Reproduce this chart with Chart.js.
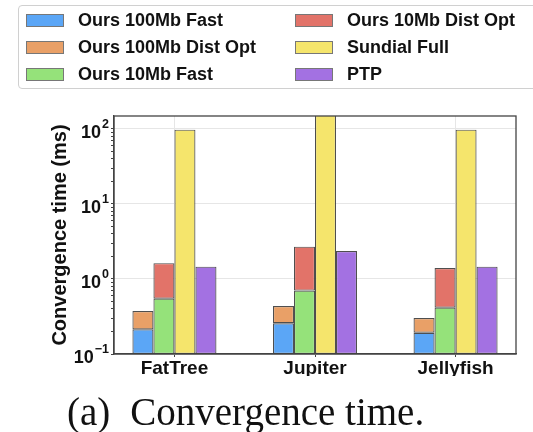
<!DOCTYPE html>
<html>
<head>
<meta charset="utf-8">
<script src="https://cdn.jsdelivr.net/npm/chart.js@4"></script>
<style>
  html, body { margin: 0; padding: 0; background: #fff; }
  #wrap { position: relative; width: 533px; height: 432px; overflow: hidden; }
  #chart { position: absolute; left: 0; top: 0; }
  #legend {
    position: absolute; left: 18px; top: 5px; width: 540px; height: 84px;
    border: 1px solid #d0d0d0; border-radius: 4px; box-sizing: border-box;
    display: grid; grid-auto-flow: column;
    grid-template-rows: repeat(3, 27px); grid-template-columns: 269px auto;
    padding: 1px 0 0 7px;
    font: bold 18px "Liberation Sans", Arial, sans-serif; color: #111;
  }
  .item { display: flex; align-items: center; white-space: nowrap; }
  .sw { width: 38px; height: 13px; border: 1px solid #777; box-sizing: border-box; margin-right: 14px; }
  #caption {
    position: absolute; left: 67px; top: 389px;
    font: 39px "Liberation Serif", "DejaVu Serif", serif; color: #111; white-space: nowrap;
  }
</style>
</head>
<body>
<div id="wrap">
  <canvas id="chart" width="533" height="432"></canvas>
  <div id="legend"></div>
  <div id="caption">(a)<span style="margin-left:20px">Convergence time.</span></div>
</div>
<script>
const categories = ['FatTree', 'Jupiter', 'Jellyfish'];
const fast100 = [0.213, 0.257, 0.192];
const distOpt100 = [0.16, 0.18, 0.11];   // stacked on top of fast100
const fast10 = [0.547, 0.70, 0.415];
const distOpt10 = [1.08, 2.0, 0.985];    // stacked on top of fast10
const sundial = [98, 180, 98];
const ptp = [1.46, 2.36, 1.46];
const yMajorTicks = [0.1, 1, 10, 100];
const yExponents = ['\u22121', '0', '1', '2'];

const sansFont = '"Liberation Sans", Arial, sans-serif';
const edge = 'rgba(60,60,60,0.9)';
function pts(arr) {
    return arr.map(function (v, i) { return { x: i, y: v }; });
}
function ds(label, arr, color, stack) {
    return {
        label: label,
        data: pts(arr),
        backgroundColor: color,
        borderColor: edge,
        borderWidth: 1.2,
        borderSkipped: false,
        stack: stack,
        categoryPercentage: 0.598,
        barPercentage: 1
    };
}
function majorIndex(v) {
    return yMajorTicks.findIndex(function (t) { return Math.abs(t - v) < 1e-9; });
}

// box around the plot area + the exponents of the y tick labels
const framePlugin = {
    id: 'frame',
    afterDraw(chart) {
        const a = chart.chartArea;
        const c = chart.ctx;
        c.save();
        c.strokeStyle = '#444';
        c.lineWidth = 1.3;
        c.strokeRect(a.left, a.top, a.right - a.left, a.bottom - a.top);

        const y = chart.scales.y;
        c.fillStyle = '#111';
        c.font = 'bold 12.5px ' + sansFont;
        c.textAlign = 'right';
        c.textBaseline = 'alphabetic';
        yMajorTicks.forEach(function (v, i) {
            c.fillText(yExponents[i], y.right - 5, y.getPixelForValue(v) - 1);
        });
        c.restore();
    }
};

const chart = new Chart(document.getElementById('chart'), {
    type: 'bar',
    data: {
        datasets: [
            ds('Ours 100Mb Fast', fast100, '#5ba6f6', 'a'),
            ds('Ours 100Mb Dist Opt', distOpt100, '#e9a067', 'a'),
            ds('Ours 10Mb Fast', fast10, '#95e27a', 'b'),
            ds('Ours 10Mb Dist Opt', distOpt10, '#e27369', 'b'),
            ds('Sundial Full', sundial, '#f5e56c', 'c'),
            ds('PTP', ptp, '#a371e2', 'd')
        ]
    },
    options: {
        responsive: false,
        animation: false,
        layout: { padding: { top: 116, left: 40, right: 17, bottom: 56 } },
        plugins: {
            legend: { display: false },
            title: { display: false },
            tooltip: { enabled: false }
        },
        scales: {
            x: {
                type: 'linear',
                offset: false,
                min: -0.43,
                max: 2.43,
                afterBuildTicks: function (s) {
                    s.ticks = categories.map(function (c, i) { return { value: i }; });
                },
                afterFit: function (s) { s.height = 22; },
                grid: { offset: false, color: '#e6e6e6', tickColor: '#444', tickLength: 3 },
                border: { color: '#444', width: 1.3 },
                ticks: {
                    color: '#111',
                    padding: 0,
                    maxRotation: 0,
                    font: { family: sansFont, size: 19, weight: 'bold' },
                    callback: function (v) { return categories[v] || ''; }
                }
            },
            y: {
                type: 'logarithmic',
                stacked: true,
                min: 0.1,
                max: 149,
                afterBuildTicks: function (s) {
                    s.ticks = s.ticks.filter(function (t) {
                        const m = t.value / Math.pow(10, Math.floor(Math.log10(t.value) + 1e-9));
                        return Math.abs(m - Math.round(m)) < 1e-6;
                    });
                },
                afterFit: function (s) { s.width = 74; },
                grid: {
                    color: function (c) { return c.tick && majorIndex(c.tick.value) >= 0 ? '#e6e6e6' : 'rgba(0,0,0,0)'; },
                    tickColor: '#444',
                    tickLength: 3
                },
                border: { color: '#444', width: 1.3 },
                title: {
                    display: true,
                    text: 'Convergence time (ms)',
                    color: '#111',
                    padding: { top: 8, bottom: 0 },
                    font: { family: sansFont, size: 20, weight: 'bold' }
                },
                ticks: {
                    autoSkip: false,
                    padding: 10,
                    labelOffset: 4,
                    color: '#111',
                    font: { family: sansFont, size: 18, weight: 'bold' },
                    callback: function (v) {
                        const i = majorIndex(v);
                        if (i < 0) return '';
                        // leave room for the wider "-1" exponent
                        return yExponents[i].length > 1 ? '10\u2009\u2009' : '10';
                    }
                }
            }
        }
    },
    plugins: [framePlugin]
});

// legend in two columns, filled top to bottom
const legendEl = document.getElementById('legend');
chart.data.datasets.forEach(function (d) {
    const item = document.createElement('div');
    item.className = 'item';
    const sw = document.createElement('span');
    sw.className = 'sw';
    sw.style.background = d.backgroundColor;
    item.appendChild(sw);
    item.appendChild(document.createTextNode(d.label));
    legendEl.appendChild(item);
});
</script>
</body>
</html>
